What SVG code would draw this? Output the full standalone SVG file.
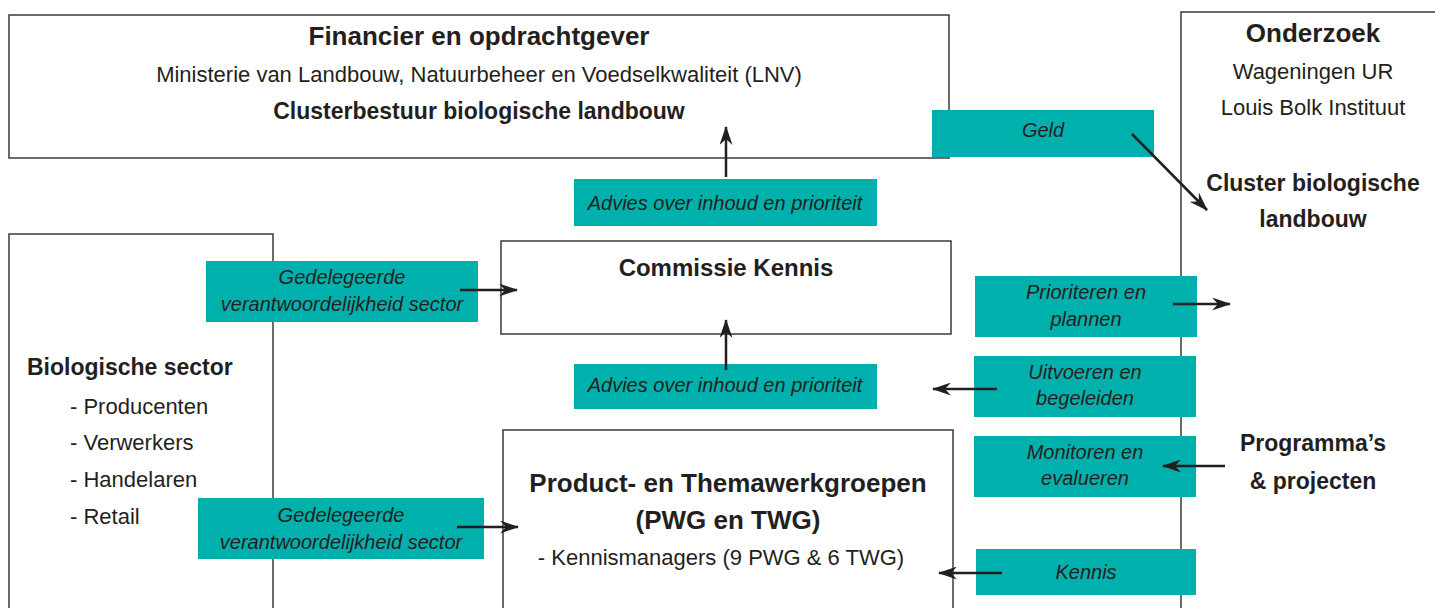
<svg xmlns="http://www.w3.org/2000/svg" width="1435" height="608" viewBox="0 0 1435 608">
<style>
.box{fill:#fff;stroke:#3a3a3a;stroke-width:1.5}
.tag{fill:#00b0ac}
text{font-family:"Liberation Sans",Arial,sans-serif;fill:#231f20}
.h1{font-size:26px;font-weight:bold;text-anchor:middle}
.h2{font-size:23px;font-weight:bold;text-anchor:middle}
.t{font-size:22px;text-anchor:middle}
.tl{font-size:22px}
.i{font-size:20px;font-style:italic;text-anchor:middle}
.arr{stroke:#231f20;stroke-width:2.5;fill:none;marker-end:url(#ah)}
</style>
<defs>
<marker id="ah" viewBox="0 0 19 13" refX="18" refY="6.5" markerWidth="19" markerHeight="13" markerUnits="userSpaceOnUse" orient="auto">
<path d="M0,0 L19,6.5 L0,13 L6,6.5 Z" fill="#231f20"/>
</marker>
</defs>
<rect width="1435" height="608" fill="#fff"/>
<g id="financier">
<rect class="box" x="9" y="15" width="940" height="143"/>
<text class="h1" x="479" y="45">Financier en opdrachtgever</text>
<text class="t" x="479" y="82">Ministerie van Landbouw, Natuurbeheer en Voedselkwaliteit (LNV)</text>
<text class="h2" x="479" y="119">Clusterbestuur biologische landbouw</text>
</g>
<g id="onderzoek">
<rect class="box" x="1181" y="12" width="300" height="700"/>
<text class="h1" x="1313" y="42">Onderzoek</text>
<text class="t" x="1313" y="79">Wageningen UR</text>
<text class="t" x="1313" y="115">Louis Bolk Instituut</text>
<text class="h2" x="1313" y="191">Cluster biologische</text>
<text class="h2" x="1313" y="227">landbouw</text>
</g>
<g id="programmas">
<text class="h2" x="1313" y="451">Programma’s</text>
<text class="h2" x="1313" y="489">&amp; projecten</text>
</g>
<g id="sector">
<rect class="box" x="9" y="234" width="264" height="400"/>
<text x="27" y="375" style="font-size:23px;font-weight:bold">Biologische sector</text>
<text class="tl" x="70" y="414">- Producenten</text>
<text class="tl" x="70" y="450">- Verwerkers</text>
<text class="tl" x="70" y="487">- Handelaren</text>
<text class="tl" x="70" y="524">- Retail</text>
</g>
<g id="commissie">
<rect class="box" x="501" y="241" width="450" height="93"/>
<text class="h2" x="726" y="276" style="font-size:24px">Commissie Kennis</text>
</g>
<g id="pwg">
<rect class="box" x="503" y="430" width="450" height="200"/>
<text class="h1" x="728" y="492">Product- en Themawerkgroepen</text>
<text class="h1" x="728" y="529">(PWG en TWG)</text>
<text class="t" x="721" y="565">- Kennismanagers (9 PWG &amp; 6 TWG)</text>
</g>
<g id="labels">
<rect class="tag" x="932" y="110" width="222" height="47"/>
<text class="i" x="1043" y="137">Geld</text>
<rect class="tag" x="574" y="179" width="303" height="47"/>
<text class="i" x="725" y="210">Advies over inhoud en prioriteit</text>
<rect class="tag" x="574" y="364" width="303" height="45"/>
<text class="i" x="725" y="392">Advies over inhoud en prioriteit</text>
<rect class="tag" x="206" y="261" width="272" height="61"/>
<text class="i" x="342" y="284">Gedelegeerde</text>
<text class="i" x="342" y="311">verantwoordelijkheid sector</text>
<rect class="tag" x="198" y="498" width="286" height="61"/>
<text class="i" x="341" y="522">Gedelegeerde</text>
<text class="i" x="341" y="549">verantwoordelijkheid sector</text>
<rect class="tag" x="975" y="276" width="222" height="61"/>
<text class="i" x="1086" y="299">Prioriteren en</text>
<text class="i" x="1086" y="326">plannen</text>
<rect class="tag" x="974" y="356" width="222" height="61"/>
<text class="i" x="1085" y="379">Uitvoeren en</text>
<text class="i" x="1085" y="405">begeleiden</text>
<rect class="tag" x="974" y="436" width="222" height="61"/>
<text class="i" x="1085" y="459">Monitoren en</text>
<text class="i" x="1085" y="485">evalueren</text>
<rect class="tag" x="976" y="549" width="220" height="46"/>
<text class="i" x="1086" y="579">Kennis</text>
</g>
<g id="connectors">
<line class="arr" x1="1132" y1="134" x2="1207" y2="210"/>
<line class="arr" x1="726" y1="177" x2="726" y2="127"/>
<line class="arr" x1="726" y1="370" x2="726" y2="320"/>
<line class="arr" x1="460" y1="290" x2="517" y2="290"/>
<line class="arr" x1="457" y1="527" x2="518" y2="527"/>
<line class="arr" x1="1173" y1="304" x2="1230" y2="304"/>
<line class="arr" x1="997" y1="389" x2="933" y2="389"/>
<line class="arr" x1="1225" y1="466" x2="1163" y2="466"/>
<line class="arr" x1="1002" y1="573" x2="939" y2="573"/>
</g>
</svg>
